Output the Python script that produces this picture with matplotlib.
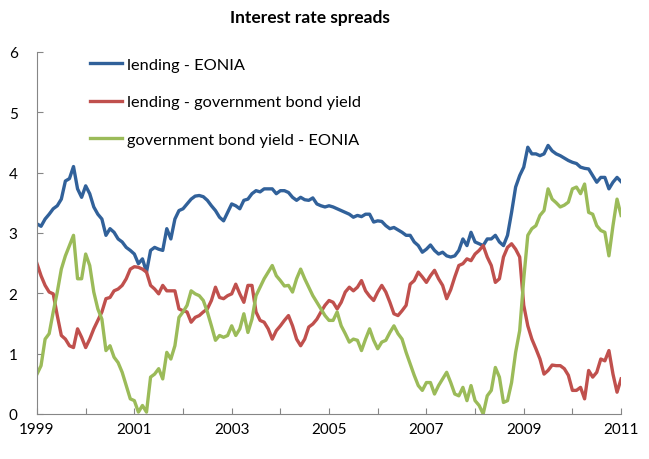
import numpy as np
import matplotlib

matplotlib.use("Agg")
import matplotlib.pyplot as plt

# monthly observations, Jan 1999 .. Jan 2011
start_year = 1999
lending_eonia = [
    3.15, 3.11, 3.23, 3.31, 3.40, 3.45, 3.56, 3.86, 3.90, 4.10, 3.73, 3.59,
    3.78, 3.65, 3.43, 3.31, 3.23, 2.96, 3.07, 3.01, 2.90, 2.85, 2.76, 2.71,
    2.65, 2.49, 2.57, 2.35, 2.71, 2.76, 2.73, 2.71, 3.07, 2.90, 3.23, 3.37,
    3.40, 3.48, 3.56, 3.61, 3.62, 3.60, 3.54, 3.45, 3.37, 3.26, 3.20, 3.34,
    3.48, 3.45, 3.40, 3.54, 3.56, 3.65, 3.70, 3.68, 3.73, 3.73, 3.73, 3.65,
    3.70, 3.70, 3.67, 3.59, 3.54, 3.59, 3.55, 3.54, 3.58, 3.48, 3.45, 3.43,
    3.45, 3.43, 3.40, 3.37, 3.34, 3.31, 3.26, 3.29, 3.27, 3.31, 3.31, 3.18,
    3.20, 3.19, 3.12, 3.07, 3.09, 3.05, 3.01, 2.96, 2.96, 2.85, 2.79, 2.68,
    2.73, 2.80, 2.71, 2.65, 2.68, 2.62, 2.60, 2.62, 2.71, 2.90, 2.79, 3.01,
    2.85, 2.82, 2.79, 2.90, 2.90, 2.96, 2.85, 2.79, 2.96, 3.34, 3.76, 3.95,
    4.09, 4.42, 4.31, 4.31, 4.28, 4.31, 4.45, 4.36, 4.31, 4.28, 4.24, 4.20,
    4.17, 4.15, 4.09, 4.07, 4.06, 3.95, 3.84, 3.92, 3.92, 3.73, 3.84, 3.92,
    3.85,
]
lending_bond = [
    2.49, 2.29, 2.13, 2.02, 1.99, 1.63, 1.30, 1.24, 1.13, 1.10, 1.41, 1.27,
    1.10, 1.24, 1.41, 1.55, 1.69, 1.91, 1.93, 2.04, 2.07, 2.13, 2.24, 2.40,
    2.44, 2.43, 2.40, 2.35, 2.13, 2.07, 1.99, 2.13, 2.04, 2.04, 2.04, 1.74,
    1.71, 1.69, 1.52, 1.60, 1.63, 1.69, 1.74, 1.88, 2.10, 1.93, 1.91, 1.96,
    1.99, 2.15, 1.99, 1.85, 2.13, 2.13, 1.69, 1.55, 1.52, 1.41, 1.24, 1.38,
    1.46, 1.55, 1.63, 1.46, 1.24, 1.13, 1.24, 1.44, 1.49, 1.57, 1.69, 1.80,
    1.88, 1.85, 1.74, 1.85, 2.02, 2.10, 2.04, 2.10, 2.21, 2.04, 1.95, 1.88,
    2.02, 2.13, 2.02, 1.85, 1.66, 1.63, 1.71, 1.80, 2.15, 2.21, 2.35, 2.27,
    2.18, 2.29, 2.38, 2.24, 2.13, 1.91, 2.06, 2.27, 2.46, 2.49, 2.57, 2.54,
    2.65, 2.71, 2.79, 2.60, 2.46, 2.18, 2.24, 2.60, 2.76, 2.82, 2.73, 2.60,
    1.80, 1.46, 1.24, 1.08, 0.91, 0.66, 0.72, 0.81, 0.80, 0.80, 0.75, 0.64,
    0.39, 0.39, 0.44, 0.25, 0.72, 0.61, 0.69, 0.91, 0.88, 1.05, 0.66, 0.36,
    0.58,
]
bond_eonia = [
    0.66, 0.80, 1.24, 1.33, 1.69, 2.02, 2.40, 2.62, 2.79, 2.96, 2.24, 2.24,
    2.65, 2.46, 2.02, 1.74, 1.57, 1.05, 1.13, 0.94, 0.85, 0.69, 0.47, 0.25,
    0.22, 0.03, 0.14, 0.03, 0.61, 0.66, 0.75, 0.58, 1.02, 0.91, 1.13, 1.60,
    1.69, 1.80, 2.04, 1.99, 1.96, 1.88, 1.69, 1.46, 1.22, 1.30, 1.27, 1.30,
    1.46, 1.30, 1.41, 1.66, 1.35, 1.57, 1.96, 2.10, 2.24, 2.35, 2.46, 2.29,
    2.21, 2.12, 2.13, 2.02, 2.24, 2.40, 2.24, 2.10, 1.96, 1.85, 1.74, 1.63,
    1.55, 1.55, 1.69, 1.46, 1.33, 1.19, 1.24, 1.22, 1.05, 1.24, 1.41, 1.22,
    1.08, 1.19, 1.22, 1.35, 1.46, 1.33, 1.24, 1.02, 0.83, 0.64, 0.47, 0.39,
    0.52, 0.52, 0.33, 0.47, 0.58, 0.69, 0.52, 0.33, 0.30, 0.44, 0.22, 0.47,
    0.22, 0.14, 0.00, 0.30, 0.39, 0.77, 0.61, 0.19, 0.22, 0.52, 1.02, 1.38,
    2.24, 2.96, 3.07, 3.12, 3.29, 3.37, 3.73, 3.56, 3.50, 3.43, 3.46, 3.51,
    3.73, 3.76, 3.65, 3.81, 3.34, 3.31, 3.12, 3.04, 3.01, 2.62, 3.12, 3.56,
    3.29,
]
series_labels = ["lending - EONIA", "lending - government bond yield", "government bond yield - EONIA"]
colors = ["#31619A", "#C0504D", "#9BBB59"]

x = start_year + np.arange(len(lending_eonia)) / 12.0

plt.rcParams['font.family'] = ['Lato', 'DejaVu Sans']

fig = plt.figure(figsize=(6.49, 4.6), dpi=100)
ax = fig.add_axes([0.057, 0.098, 0.9, 0.787])

for vals, lab, col in zip([lending_eonia, lending_bond, bond_eonia], series_labels, colors):
    ax.plot(x, vals, color=col, lw=2.4, label=lab, solid_joinstyle='round')

ax.set_xlim(1999, 2011)
ax.set_ylim(0, 6)
ax.set_xticks(np.arange(1999, 2012))
ax.set_xticklabels([str(y) if (y - 1999) % 2 == 0 else "" for y in range(1999, 2012)])
ax.set_yticks(range(0, 7))
ax.tick_params(axis='both', direction='in', length=4, color='#868686', labelsize=11, pad=6)
ax.tick_params(axis='y', pad=14)
for s in ['top', 'right']:
    ax.spines[s].set_visible(False)
for s in ['left', 'bottom']:
    ax.spines[s].set_color('#868686')

fig.text(0.478, 0.96, "Interest rate spreads", ha='center', va='center', fontsize=12.5, fontweight='bold')

ax.legend(loc='upper left', bbox_to_anchor=(0.065, 1.025), frameon=False, fontsize=11.8,
          handlelength=2.0, labelspacing=1.4, handletextpad=0.3)

plt.savefig("out.png", dpi=100)
